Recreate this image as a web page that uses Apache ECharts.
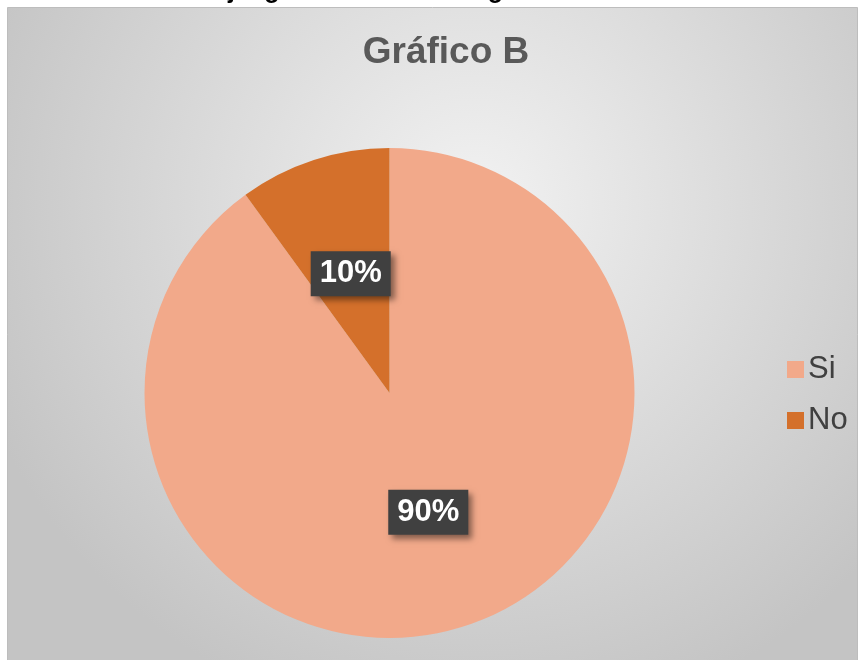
<!DOCTYPE html>
<html>
<head>
<meta charset="utf-8">
<style>
html,body{margin:0;padding:0;background:#fff;}
#chart{width:862px;height:660px;}
</style>
<script src="https://cdn.jsdelivr.net/npm/echarts@6/dist/echarts.min.js"></script>
</head>
<body>
<div id="chart"></div>
<script>
// datos del gráfico
var categorias = ['Si', 'No'];
var valores = [90, 10];
var colores = ['#F2A98A', '#D4702B'];
var titulo = 'Gráfico B';

var datos = [];
for (var i = 0; i < categorias.length; i++) {
    datos.push({ name: categorias[i], value: valores[i], itemStyle: { color: colores[i] } });
}

var chart = echarts.init(document.getElementById('chart'));
chart.setOption({
    animation: false,
    backgroundColor: '#fff',
    graphic: [
        {
            type: 'rect',
            z: -10,
            shape: { x: 7.5, y: 7.5, width: 850, height: 660 },
            style: {
                fill: {
                    type: 'radial', x: 0.55, y: 0.3, r: 0.8,
                    colorStops: [
                        { offset: 0, color: '#f2f2f2' },
                        { offset: 1, color: '#c4c4c4' }
                    ]
                },
                stroke: '#bdbdbd', lineWidth: 1
            }
        },
        {
            type: 'text',
            left: 0,
            top: -21,
            z: -5,
            style: {
                text: 'Ilustración N° 2: El juego como metodología en la educación inicial',
                font: 'bold 25px "Liberation Sans", Arial, sans-serif',
                fill: '#000'
            }
        }
    ],
    title: {
        text: titulo,
        left: 441,
        top: 29,
        textAlign: 'center',
        textStyle: {
            fontFamily: '"Liberation Sans", Arial, sans-serif',
            fontSize: 37,
            fontWeight: 'bold',
            color: '#595959'
        }
    },
    legend: {
        orient: 'vertical',
        left: 782,
        top: 349,
        itemWidth: 17,
        itemHeight: 17,
        itemGap: 20,
        icon: 'rect',
        data: categorias,
        textStyle: {
            fontFamily: '"Liberation Sans", Arial, sans-serif',
            fontSize: 31,
            color: '#404040',
            padding: [0, 0, 0, -1]
        }
    },
    series: [
        {
            name: 'Gráfico B',
            type: 'pie',
            center: [389.5, 393],
            radius: 245,
            startAngle: 90,
            clockwise: true,
            data: datos,
            itemStyle: { borderWidth: 0 },
            emphasis: { disabled: true },
            label: {
                show: true,
                position: 'inside',
                formatter: '{c}%',
                fontFamily: '"Liberation Sans", Arial, sans-serif',
                fontSize: 31,
                fontWeight: 'bold',
                color: '#fff',
                backgroundColor: '#404040',
                padding: [10, 9, 4, 9],
                shadowColor: 'rgba(0,0,0,0.45)',
                shadowBlur: 6,
                shadowOffsetX: 4,
                shadowOffsetY: 4
            },
            labelLine: { show: false }
        }
    ]
});
</script>
</body>
</html>
